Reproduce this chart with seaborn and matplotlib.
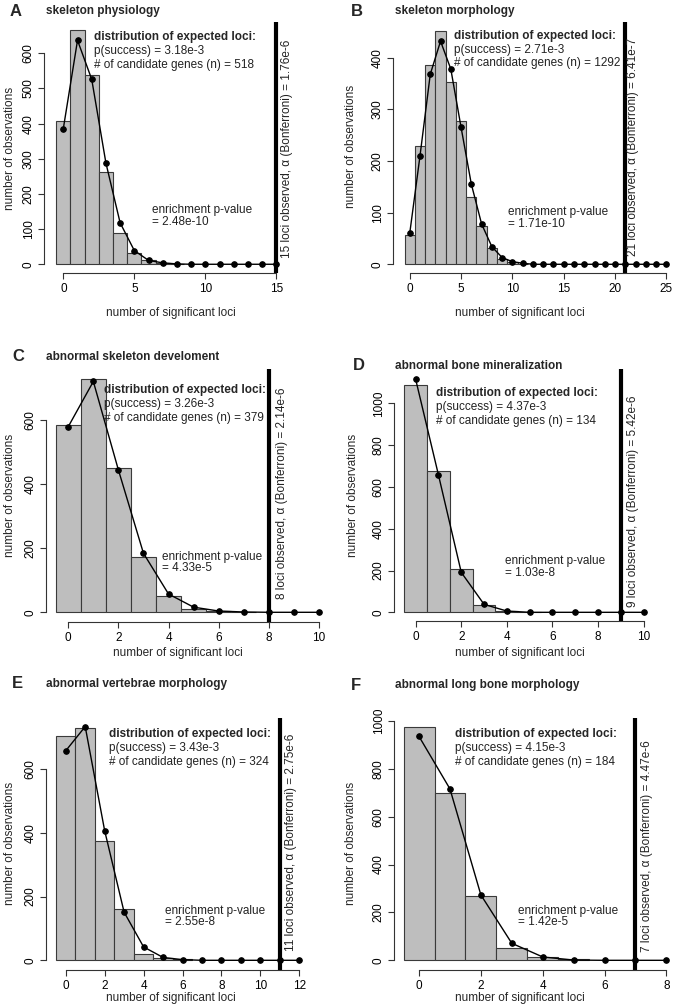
import numpy as np
import seaborn as sns
import matplotlib.pyplot as plt

# observed counts per number of significant loci (bars) and expected counts (points)
skel_phys_bars = [408, 665, 537, 262, 88, 31, 12, 5, 1]
skel_phys_expected = [386, 637, 526, 288, 118, 39, 11, 4, 1, 0, 0, 0, 0, 0, 0, 0]

skel_morph_bars = [57, 229, 386, 452, 352, 278, 130, 74, 32, 10, 4, 1]
skel_morph_expected = [60, 210, 368, 432, 378, 265, 155, 78, 34, 13, 5, 2, 0,
                       0, 0, 0, 0, 0, 0, 0, 0, 0, 0, 0, 0, 0]

skel_dev_bars = [585, 728, 449, 174, 52, 10, 4, 1]
skel_dev_expected = [579, 720, 444, 184, 57, 16, 4, 1, 0, 0, 0]

bone_min_bars = [1088, 678, 207, 33, 8, 1]
bone_min_expected = [1115, 657, 191, 38, 6, 0, 0, 0, 0, 0, 0]

vert_morph_bars = [705, 729, 376, 160, 19, 8, 3]
vert_morph_expected = [658, 734, 407, 151, 42, 9, 2, 0, 0, 0, 0, 0, 0]

long_bone_bars = [974, 698, 270, 52, 13, 4]
long_bone_expected = [935, 716, 273, 71, 14, 1, 0, 0, 0]

letters = ["A", "B", "C", "D", "E", "F"]
titles = ["skeleton physiology", "skeleton morphology", "abnormal skeleton develoment",
          "abnormal bone mineralization", "abnormal vertebrae morphology",
          "abnormal long bone morphology"]
p_success = ["3.18e-3", "2.71e-3", "3.26e-3", "4.37e-3", "3.43e-3", "4.15e-3"]
n_genes = [518, 1292, 379, 134, 324, 184]
observed = [15, 21, 8, 9, 11, 7]
alpha_bonf = ["1.76e-6", "6.41e-7", "2.14e-6", "5.42e-6", "2.75e-6", "4.47e-6"]
enrich_p = ["2.48e-10", "1.71e-10", "4.33e-5", "1.03e-8", "2.55e-8", "1.42e-5"]
x_ticks = [[0, 5, 10, 15], [0, 5, 10, 15, 20, 25], [0, 2, 4, 6, 8, 10],
           [0, 2, 4, 6, 8, 10], [0, 2, 4, 6, 8, 10, 12], [0, 2, 4, 6, 8]]
y_ticks = [[0, 100, 200, 300, 400, 500, 600], [0, 100, 200, 300, 400],
           [0, 200, 400, 600], [0, 200, 400, 600, 800, 1000],
           [0, 200, 400, 600], [0, 200, 400, 600, 800, 1000]]

bars_all = [skel_phys_bars, skel_morph_bars, skel_dev_bars,
            bone_min_bars, vert_morph_bars, long_bone_bars]
expected_all = [skel_phys_expected, skel_morph_expected, skel_dev_expected,
                bone_min_expected, vert_morph_expected, long_bone_expected]

# layout in reference pixels: axes rect (l, t, r, b), limits and text anchors
layout = [
    dict(rect=(44.3, 21.7, 285.1, 272.7), xlim=(-1.34, 15.62), ylim=(-24, 690),
         letter=(10, 11), title=(46, 11), dist=(94, 37), enr=(152, 210),
         xlab=(170.5, 313), ylab=(10, 148), vtxt=(287, 258.3)),
    dict(rect=(393, 21.7, 676, 272.7), xlim=(-1.63, 25.93), ylim=(-16.3, 469.7),
         letter=(351, 11), title=(394.7, 11), dist=(454, 35.7), enr=(508, 212.3),
         xlab=(519.7, 313), ylab=(351.3, 146.7), vtxt=(633, 256)),
    dict(rect=(45.7, 369.3, 329.5, 621.5), xlim=(-0.90, 10.42), ylim=(-28.7, 758),
         letter=(12, 356.7), title=(46, 356.7), dist=(104.3, 390), enr=(161.7, 556.7),
         xlab=(177.7, 652.7), ylab=(10, 495), vtxt=(281.7, 599.3)),
    dict(rect=(394, 369.3, 653.3, 621.3), xlim=(-0.95, 10.42), ylim=(-43, 1163),
         letter=(353, 366), title=(395.3, 366), dist=(435.7, 393.3), enr=(504.7, 561),
         xlab=(519.7, 652.7), ylab=(353, 495.8), vtxt=(633, 606.7)),
    dict(rect=(45.7, 718.3, 309, 969.5), xlim=(-1.03, 12.5), ylim=(-28.9, 760),
         letter=(12, 684), title=(46, 684), dist=(109, 734), enr=(165, 910.7),
         xlab=(170.7, 997.7), ylab=(10, 843), vtxt=(290.7, 951)),
    dict(rect=(394, 718.3, 676, 969.5), xlim=(-0.81, 8.31), ylim=(-38.4, 1011),
         letter=(351.3, 685), title=(394.7, 685), dist=(454.7, 734), enr=(518, 910.7),
         xlab=(519.7, 997.7), ylab=(351.3, 843), vtxt=(647.3, 952.3)),
]

sns.set_style("ticks")
plt.rcParams['font.family'] = ['Liberation Sans', 'DejaVu Sans']
FS = 8.5
AX_COLOR = '#333333'
W, H = 676, 1008

fig = plt.figure(figsize=(W / 100, H / 100), dpi=100)


def fx(x):
    return x / W


def fy(y):
    return 1 - y / H


for i in range(6):
    lay = layout[i]
    l, t, r, b = lay['rect']
    ax = fig.add_axes([fx(l), fy(b), (r - l) / W, (b - t) / H])
    bars = bars_all[i]
    expected = expected_all[i]

    sns.histplot(x=np.arange(len(bars)), weights=bars, discrete=True,
                 color='#BEBEBE', edgecolor='#3a3a3a', linewidth=0.8, alpha=1, ax=ax)
    sns.lineplot(x=np.arange(len(expected)), y=expected, color='black', marker='o',
                 markersize=4, markeredgecolor='black', linewidth=1, ax=ax)
    ax.axvline(observed[i], color='black', lw=3)

    ax.set_xlim(*lay['xlim'])
    ax.set_ylim(*lay['ylim'])
    ax.set_xticks(x_ticks[i])
    ax.set_xticklabels([str(v) for v in x_ticks[i]])
    ax.set_yticks(y_ticks[i])
    ax.set_yticklabels([str(v) for v in y_ticks[i]], rotation=90, va='center')
    ax.tick_params(length=4.3, width=0.8, color=AX_COLOR, labelsize=FS, labelcolor='black')
    ax.tick_params(axis='x', pad=3)
    ax.tick_params(axis='y', pad=2.5)

    sns.despine(ax=ax)
    ax.spines['left'].set_bounds(0, y_ticks[i][-1])
    ax.spines['bottom'].set_bounds(0, x_ticks[i][-1])
    for s in ['left', 'bottom']:
        ax.spines[s].set_color(AX_COLOR)
        ax.spines[s].set_linewidth(0.8)

    ax.set_xlabel('number of significant loci', fontsize=FS)
    ax.xaxis.set_label_coords(fx(lay['xlab'][0]), fy(lay['xlab'][1]), transform=fig.transFigure)
    ax.xaxis.label.set_va('center')
    ax.set_ylabel('number of observations', fontsize=FS)
    ax.yaxis.set_label_coords(fx(lay['ylab'][0]), fy(lay['ylab'][1]), transform=fig.transFigure)
    ax.yaxis.label.set_va('center')

    # panel letter and title
    fig.text(fx(lay['letter'][0]), fy(lay['letter'][1]), letters[i], fontsize=12,
             fontweight='heavy', ha='left', va='center')
    fig.text(fx(lay['title'][0]), fy(lay['title'][1]), titles[i], fontsize=FS,
             fontweight='bold', ha='left', va='center')

    # expected distribution block
    dx, dy = lay['dist']
    fig.text(fx(dx), fy(dy), 'distribution of expected loci:', fontsize=FS,
             fontweight='bold', ha='left', va='center')
    fig.text(fx(dx), fy(dy + 13.8), f'p(success) = {p_success[i]}', fontsize=FS,
             ha='left', va='center', color='#222222')
    fig.text(fx(dx), fy(dy + 27.6), f'# of candidate genes (n) = {n_genes[i]}', fontsize=FS,
             ha='left', va='center', color='#222222')

    ex, ey = lay['enr']
    fig.text(fx(ex), fy(ey), 'enrichment p-value', fontsize=FS, ha='left', va='center',
             color='#222222')
    fig.text(fx(ex), fy(ey + 11.7), f'= {enrich_p[i]}', fontsize=FS, ha='left', va='center',
             color='#222222')

    vx, vy = lay['vtxt']
    fig.text(fx(vx), fy(vy), f'{observed[i]} loci observed, α (Bonferroni) = {alpha_bonf[i]}',
             fontsize=FS, rotation=90, ha='center', va='bottom', color='#222222')

fig.savefig('out.png', dpi=100)
